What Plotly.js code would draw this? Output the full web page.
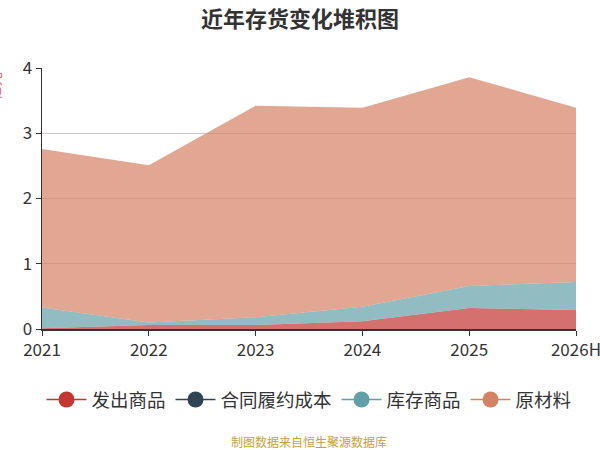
<!DOCTYPE html>
<html>
<head>
<meta charset="utf-8">
<script src="https://cdn.plot.ly/plotly-3.0.1.min.js"></script>
<style>
  html, body { margin: 0; padding: 0; background: #fff; }
  #chart { width: 600px; height: 450px; }
</style>
</head>
<body>
<div id="chart"></div>
<script>
"use strict";

// years on the x axis
let years = ["2021", "2022", "2023", "2024", "2025", "2026H"];

// stacked inventory components
let shippedGoods = [0.01, 0.06, 0.06, 0.12, 0.32, 0.29];   // 发出商品
let contractCost = [0, 0, 0, 0, 0, 0];                      // 合同履约成本
let stockGoods = [0.32, 0.04, 0.12, 0.22, 0.34, 0.43];     // 库存商品
let rawMaterial = [2.43, 2.41, 3.24, 3.05, 3.20, 2.67];    // 原材料

let seriesNames = ["发出商品", "合同履约成本", "库存商品", "原材料"];
let seriesColors = ["#c23531", "#2f4554", "#61a0a8", "#d48265"];
let seriesFills = ["rgba(194,53,49,0.7)", "rgba(47,69,84,0.7)", "rgba(97,160,168,0.7)", "rgba(212,130,101,0.7)"];
let seriesValues = [shippedGoods, contractCost, stockGoods, rawMaterial];

const FONT = "'Noto Sans CJK SC', 'Noto Sans', sans-serif";

function getAreaTrace(values, i) {
    return {
        x: years,
        y: values,
        name: seriesNames[i],
        type: "scatter",
        mode: "lines",
        stackgroup: "inv",
        fillcolor: seriesFills[i],
        line: {color: seriesFills[i], width: 0},
        hoverinfo: "x+y+name",
        showlegend: false
    };
}

// legend-only traces so the legend shows line + dot like the original
function getLegendTrace(i) {
    return {
        x: [null],
        y: [null],
        name: seriesNames[i],
        type: "scatter",
        mode: "lines+markers",
        line: {color: seriesColors[i], width: 1.5},
        marker: {color: seriesColors[i], size: 17},
        hoverinfo: "skip"
    };
}

let data = seriesValues.map(getAreaTrace);
seriesNames.forEach(function (n, i) {
    data.push(getLegendTrace(i));
});

let layout = {
    width: 600,
    height: 450,
    margin: {l: 42, r: 24, t: 68, b: 121},
    paper_bgcolor: "#fff",
    plot_bgcolor: "#fff",
    font: {family: FONT, color: "#333"},
    title: {
        text: "<b>近年存货变化堆积图</b>",
        font: {family: FONT, size: 22, color: "#333"},
        x: 0.5,
        xanchor: "center",
        y: 0.958,
        yanchor: "middle"
    },
    xaxis: {
        type: "category",
        range: [0, years.length - 1],
        showgrid: false,
        zeroline: false,
        showline: true,
        linecolor: "#333",
        linewidth: 1.5,
        ticks: "outside",
        ticklen: 5,
        tickcolor: "#333",
        tickfont: {family: FONT, size: 17, color: "#333"},
        fixedrange: true
    },
    yaxis: {
        range: [0, 4],
        dtick: 1,
        showgrid: true,
        gridcolor: "#ccc",
        zeroline: false,
        showline: true,
        linecolor: "#333",
        linewidth: 1.5,
        ticks: "outside",
        ticklen: 5,
        tickcolor: "#333",
        tickfont: {family: FONT, size: 17, color: "#333"},
        fixedrange: true
    },
    legend: {
        orientation: "h",
        traceorder: "normal",
        x: 0.5,
        xanchor: "center",
        y: -0.272,
        yanchor: "middle",
        font: {family: FONT, size: 18.5, color: "#333"},
        itemwidth: 40,
        bgcolor: "rgba(0,0,0,0)"
    },
    annotations: [
        {
            text: "亿元",
            xref: "paper",
            yref: "paper",
            x: 0,
            y: 0.93,
            xanchor: "right",
            yanchor: "middle",
            xshift: -36,
            textangle: -90,
            showarrow: false,
            font: {family: FONT, size: 14, color: "#e06050"}
        },
        {
            text: "制图数据来自恒生聚源数据库",
            xref: "paper",
            yref: "paper",
            x: 0.5,
            y: -0.43,
            xanchor: "center",
            yanchor: "middle",
            showarrow: false,
            font: {family: FONT, size: 12, color: "#c9a03c"}
        }
    ]
};

Plotly.newPlot("chart", data, layout, {displayModeBar: false, staticPlot: true});
</script>
</body>
</html>
